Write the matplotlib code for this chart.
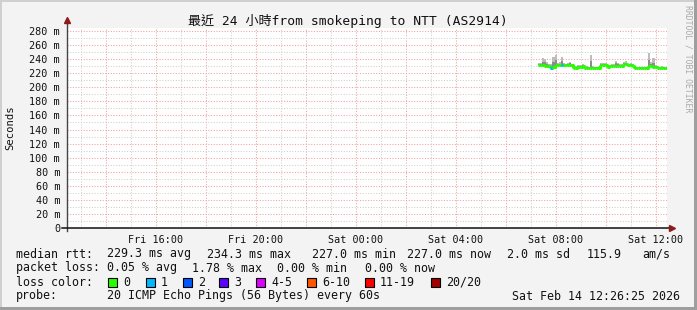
import matplotlib
matplotlib.use("Agg")
import matplotlib.pyplot as plt
import matplotlib.dates as mdates
from matplotlib.patches import Rectangle
from datetime import datetime, timedelta

W, H = 697, 310
MONO = "DejaVu Sans Mono"

# time frame of the graph
now = datetime(2026, 2, 14, 12, 26, 25)
data_start = datetime(2026, 2, 14, 7, 16, 25)
step_min = 5

# median rtt per 5 min step (ms)
median = [231.7, 231.5, 231.0, 230.2, 230.0, 229.6, 227.0, 228.4, 231.0, 231.3,
          231.2, 231.0, 231.2, 231.0, 231.4, 231.2, 231.0, 227.6, 227.4, 229.4,
          229.2, 229.6, 227.4, 227.2, 227.5, 227.4, 227.3, 227.6, 227.4, 227.5,
          232.0, 231.8, 232.2, 229.5, 229.8, 230.6, 230.4, 230.8, 230.5, 230.3,
          230.7, 233.0, 232.8, 231.0, 231.2, 230.9, 227.0, 226.8, 227.1, 227.0,
          226.9, 227.2, 227.0, 230.0, 230.2, 228.5, 228.7, 227.5, 227.4, 227.6,
          227.3, 227.0]
# smoke range (ms)
smoke_hi = [234.5, 235.0, 241.0, 240.5, 236.0, 233.0, 233.5, 243.0, 246.0, 234.5,
            236.0, 243.0, 234.0, 233.5, 234.5, 236.5, 233.0, 230.0, 230.5, 232.0,
            231.5, 232.5, 229.5, 230.0, 229.5, 246.0, 230.0, 229.5, 229.0, 229.5,
            234.0, 234.5, 234.0, 232.0, 231.5, 233.5, 232.5, 237.5, 235.0, 232.5,
            233.0, 235.5, 237.5, 233.5, 234.0, 232.5, 229.0, 229.5, 228.5, 229.0,
            229.5, 229.0, 229.5, 249.0, 236.0, 241.0, 231.0, 229.5, 229.0, 230.0,
            229.5, 229.0]
smoke_lo = [230.0, 229.8, 229.5, 228.8, 228.5, 228.0, 225.8, 227.0, 229.5, 229.8,
            229.7, 229.6, 229.8, 229.5, 229.9, 229.7, 229.5, 226.2, 226.0, 228.0,
            227.8, 228.2, 226.0, 225.9, 226.1, 226.0, 225.9, 226.2, 226.0, 226.1,
            230.5, 230.3, 230.6, 228.1, 228.3, 229.1, 228.9, 229.3, 229.0, 228.8,
            229.2, 231.5, 231.3, 229.6, 229.7, 229.4, 225.7, 225.5, 225.8, 225.7,
            225.6, 225.9, 225.7, 228.5, 228.8, 227.1, 227.3, 226.1, 226.0, 226.2,
            225.9, 225.7]
# lost pings per step (of 20)
loss = [0, 0, 0, 0, 0, 0, 1, 0, 0, 0,
        0, 1, 0, 0, 0, 0, 0, 0, 0, 0,
        0, 0, 0, 0, 0, 0, 0, 0, 0, 0,
        0, 0, 0, 0, 0, 0, 0, 0, 0, 0,
        0, 0, 0, 0, 0, 0, 0, 0, 0, 0,
        0, 0, 0, 0, 0, 0, 0, 0, 0, 0,
        0, 0]

loss_labels = ["0", "1", "2", "3", "4-5", "6-10", "11-19", "20/20"]
loss_colors = ["#26ff00", "#00b8ff", "#0059ff", "#5e00ff", "#dd00ff",
               "#ff5500", "#ff0000", "#a10000"]

rtt_stats = ["229.3 ms avg", "234.3 ms max", "227.0 ms min", "227.0 ms now",
             "2.0 ms sd", "115.9", "am/s"]
loss_stats = ["0.05 % avg", "1.78 % max", "0.00 % min", "0.00 % now"]

title = "最近 24 小時from smokeping to NTT (AS2914)"
probe = "20 ICMP Echo Pings (56 Bytes) every 60s"
stamp = "Sat Feb 14 12:26:25 2026"


def fx(x):
    return x / W


def fy(y):
    return 1 - y / H


fig = plt.figure(figsize=(W / 100, H / 100), dpi=100)
fig.patch.set_facecolor("#f3f3f3")

# frame shading
fig.add_artist(Rectangle((0, fy(2)), 1, 2 / H, transform=fig.transFigure,
                         color="#cfcfcf", lw=0))
fig.add_artist(Rectangle((0, 0), 2 / W, 1, transform=fig.transFigure,
                         color="#cfcfcf", lw=0))
fig.add_artist(Rectangle((fx(W - 3), 0), 3 / W, 1, transform=fig.transFigure,
                         color="#9e9e9e", lw=0))
fig.add_artist(Rectangle((0, 0), 1, 3 / H, transform=fig.transFigure,
                         color="#9e9e9e", lw=0))

ax = fig.add_axes([fx(67), fy(228), 600 / W, 200 / H])
ax.set_facecolor("white")
for s in ax.spines.values():
    s.set_visible(False)

x0 = now - timedelta(hours=24)
ax.set_xlim(mdates.date2num(x0), mdates.date2num(now))
ax.set_ylim(0, 284.3)

# grid
h = x0.replace(minute=0, second=0) + timedelta(hours=1)
while h < now:
    col = "#f2a0a0" if h.hour % 2 == 0 else "#cfcfcf"
    ax.axvline(mdates.date2num(h), color=col, lw=0.75, ls=(0, (1, 1.6)),
               zorder=1)
    h += timedelta(hours=1)
for v in range(10, 285, 10):
    col = "#f2a0a0" if v % 20 == 0 else "#cfcfcf"
    ax.axhline(v, color=col, lw=0.75, ls=(0, (1, 1.6)), zorder=1)

# data
n = len(median)
edges = [mdates.date2num(data_start + timedelta(minutes=step_min * i))
         for i in range(n + 1)]
ax.fill_between(edges, smoke_lo + [smoke_lo[-1]], smoke_hi + [smoke_hi[-1]],
                step="post", color="#bdbdbd", lw=0, zorder=2)
mid_lo = [min(m, l + 1.0) for m, l in zip(median, smoke_lo)]
mid_hi = [max(m, h2 - (h2 - m) * 0.5) for m, h2 in zip(median, smoke_hi)]
ax.fill_between(edges, mid_lo + [mid_lo[-1]], mid_hi + [mid_hi[-1]],
                step="post", color="#8c8c8c", lw=0, zorder=2)
for i in range(n):
    nxt = median[i + 1] if i + 1 < n else median[i]
    ax.plot([edges[i], edges[i + 1], edges[i + 1]],
            [median[i], median[i], nxt],
            color=loss_colors[loss[i]], lw=2.2, solid_capstyle="butt",
            zorder=3)

# axes lines and arrows
ax.plot([0, 0], [-0.015, 1.035], transform=ax.transAxes, color="#444444",
        lw=1, clip_on=False, zorder=4)
ax.plot([-0.008, 1.004], [0, 0], transform=ax.transAxes, color="#111111",
        lw=1.1, clip_on=False, zorder=4)
ax.plot([0], [1.04], marker="^", ms=4.5, color="#8b1a1a",
        transform=ax.transAxes, clip_on=False, zorder=5)
ax.plot([1.008], [0], marker=">", ms=4.5, color="#8b1a1a",
        transform=ax.transAxes, clip_on=False, zorder=5)

# ticks
yt = list(range(0, 281, 20))
ax.set_yticks(yt)
ax.set_yticklabels(["0" if v == 0 else f"{v} m" for v in yt],
                   family=MONO, fontsize=7.3)
ax.xaxis.set_major_locator(mdates.HourLocator(byhour=[0, 4, 8, 12, 16, 20]))
ax.xaxis.set_major_formatter(mdates.DateFormatter("%a %H:%M"))
for lab in ax.get_xticklabels():
    lab.set_family(MONO)
ax.tick_params(axis="x", length=0, pad=5, labelsize=7.3, colors="#111111")
ax.tick_params(axis="y", length=0, pad=5, colors="#111111")

# titles and side texts
fig.text(fx(348), fy(21), title, ha="center", va="center", fontsize=9.4,
         family=[MONO, "Noto Sans CJK TC"], color="#111111")
fig.text(fx(10), fy(128), "Seconds", rotation=90, ha="center", va="center",
         fontsize=7.6, family=MONO, color="#111111")
fig.text(fx(688), fy(5), "RRDTOOL / TOBI OETIKER", rotation=-90, ha="center",
         va="top", fontsize=5.9, family=MONO, color="#aaaaaa")

# legend
lkw = dict(family=MONO, fontsize=8.4, va="center", color="#111111")
fig.text(fx(16), fy(254), "median rtt:", **lkw)
for s, x in zip(rtt_stats, [107, 207, 312, 407, 507, 587, 642]):
    fig.text(fx(x), fy(254), s, **lkw)
fig.text(fx(16), fy(268), "packet loss:", **lkw)
for s, x in zip(loss_stats, [107, 192, 277, 365]):
    fig.text(fx(x), fy(268), s, **lkw)
fig.text(fx(16), fy(282), "loss color:", **lkw)
for lab, col, x in zip(loss_labels, loss_colors,
                       [108, 146, 183, 219, 256, 307, 365, 431]):
    fig.add_artist(Rectangle((fx(x), fy(286.5)), 9 / W, 9 / H,
                             transform=fig.transFigure, facecolor=col,
                             edgecolor="black", lw=0.8))
    fig.text(fx(x + 15), fy(282), lab, **lkw)
fig.text(fx(16), fy(296), "probe:", **lkw)
fig.text(fx(107), fy(296), probe, **lkw)
fig.text(fx(680), fy(296), stamp, ha="right", **lkw)

fig.savefig("out.png", dpi=100, facecolor=fig.get_facecolor())
